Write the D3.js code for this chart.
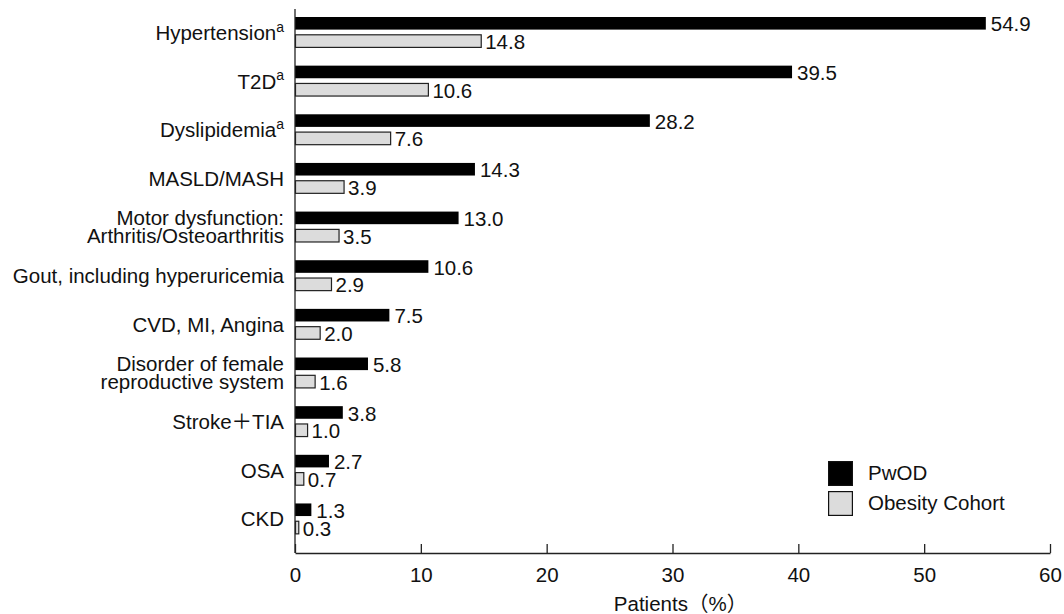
<!DOCTYPE html>
<html>
<head>
<meta charset="utf-8">
<script src="https://cdn.jsdelivr.net/npm/d3@7"></script>
<style>
  html, body { margin: 0; padding: 0; background: #fff; }
  svg { display: block; }
  text { font-family: "Liberation Sans", Arial, Helvetica, "Noto Sans CJK JP", sans-serif; fill: #111; }
</style>
</head>
<body>
<svg id="chart" width="1064" height="614"></svg>
<script>
// ---- data ----
const categories = [
  ["Hypertension", "a"],
  ["T2D", "a"],
  ["Dyslipidemia", "a"],
  ["MASLD/MASH"],
  ["Motor dysfunction:", "Arthritis/Osteoarthritis"],
  ["Gout, including hyperuricemia"],
  ["CVD, MI, Angina"],
  ["Disorder of female", "reproductive system"],
  ["Stroke＋TIA"],
  ["OSA"],
  ["CKD"]
];
const categoryKeys = ["Hypertension","T2D","Dyslipidemia","MASLD/MASH","Motor","Gout","CVD","Disorder","Stroke","OSA","CKD"];
const superscripted = [true, true, true, false, false, false, false, false, false, false, false];
const pwodValues    = [54.9, 39.5, 28.2, 14.3, 13.0, 10.6, 7.5, 5.8, 3.8, 2.7, 1.3];
const obesityValues = [14.8, 10.6, 7.6, 3.9, 3.5, 2.9, 2.0, 1.6, 1.0, 0.7, 0.3];
const seriesNames = ["PwOD", "Obesity Cohort"];
const xTicks = [0, 10, 20, 30, 40, 50, 60];
const xLabel = "Patients（%）";

// ---- layout ----
const svg = d3.select("#chart");
const left = 295, right = 1050, axisY = 553, axisTop = 9;
const FS = 20.5;

const x = d3.scaleLinear().domain([0, 60]).range([left, right]);
const y = d3.scaleBand().domain(categoryKeys).range([8.2, 543.3]).padding(0);

const g = svg.append("g");

// bars
g.selectAll("rect.pwod").data(pwodValues).join("rect")
  .attr("class", "pwod")
  .attr("x", x(0))
  .attr("y", (d, i) => y(categoryKeys[i]) + 8.8)
  .attr("width", d => x(d) - x(0))
  .attr("height", 12.6)
  .attr("fill", "#000");

g.selectAll("rect.obes").data(obesityValues).join("rect")
  .attr("class", "obes")
  .attr("x", x(0) + 0.5)
  .attr("y", (d, i) => y(categoryKeys[i]) + 26.6)
  .attr("width", d => Math.max(0, x(d) - x(0) - 0.5))
  .attr("height", 12.6)
  .attr("fill", "#dcdcdc")
  .attr("stroke", "#222")
  .attr("stroke-width", 1.2);

// value labels
g.selectAll("text.vp").data(pwodValues).join("text")
  .attr("class", "vp")
  .attr("x", d => x(d) + 5)
  .attr("y", (d, i) => y(categoryKeys[i]) + 8.8 + 7)
  .attr("dy", "0.36em")
  .attr("font-size", FS)
  .text(d => d.toFixed(1));

g.selectAll("text.vo").data(obesityValues).join("text")
  .attr("class", "vo")
  .attr("x", d => x(d) + 4)
  .attr("y", (d, i) => y(categoryKeys[i]) + 26.6 + 7)
  .attr("dy", "0.36em")
  .attr("font-size", FS)
  .text(d => d.toFixed(1));

// category labels
categories.forEach((lab, i) => {
  const cy = y(categoryKeys[i]) + y.bandwidth() / 2;
  if (superscripted[i]) {
    const t = g.append("text")
      .attr("x", 284).attr("y", cy).attr("dy", "0.36em")
      .attr("text-anchor", "end").attr("font-size", FS);
    t.append("tspan").text(lab[0]);
    t.append("tspan").attr("font-size", 14).attr("dy", "-0.6em").text(lab[1]);
  } else if (lab.length === 2) {
    lab.forEach((line, k) => {
      g.append("text")
        .attr("x", 284).attr("y", cy + (k === 0 ? -9 : 8.8)).attr("dy", "0.36em")
        .attr("text-anchor", "end").attr("font-size", FS)
        .text(line);
    });
  } else {
    g.append("text")
      .attr("x", 284).attr("y", cy).attr("dy", "0.36em")
      .attr("text-anchor", "end").attr("font-size", FS)
      .text(lab[0]);
  }
});

// x axis
const xAxis = d3.axisBottom(x).tickValues(xTicks).tickSize(-9).tickSizeOuter(0).tickPadding(14).tickFormat(d3.format("d"));
const ax = svg.append("g").attr("transform", `translate(0,${axisY})`).call(xAxis);
ax.select(".domain").attr("stroke", "#222").attr("stroke-width", 1.3);
ax.selectAll(".tick line").attr("stroke", "#222").attr("stroke-width", 1.3);
ax.selectAll(".tick text").attr("font-size", FS).attr("font-family", null).attr("fill", "#111");

// y axis line
svg.append("line")
  .attr("x1", x(0)).attr("x2", x(0))
  .attr("y1", axisTop).attr("y2", axisY)
  .attr("stroke", "#222").attr("stroke-width", 1.3);

// x label
svg.append("text")
  .attr("x", x(30) + 8).attr("y", 611)
  .attr("text-anchor", "middle").attr("font-size", FS)
  .text(xLabel);

// legend
const legend = svg.append("g").attr("transform", "translate(828,461)");
const legendFills = ["#000", "#dcdcdc"];
seriesNames.forEach((name, i) => {
  legend.append("rect")
    .attr("x", 0.6).attr("y", i * 30 + 0.6)
    .attr("width", 23.8).attr("height", 23.8)
    .attr("fill", legendFills[i]).attr("stroke", "#111").attr("stroke-width", 1.2);
  legend.append("text")
    .attr("x", 40).attr("y", i * 30 + 12).attr("dy", "0.36em")
    .attr("font-size", FS)
    .text(name);
});
</script>
</body>
</html>
